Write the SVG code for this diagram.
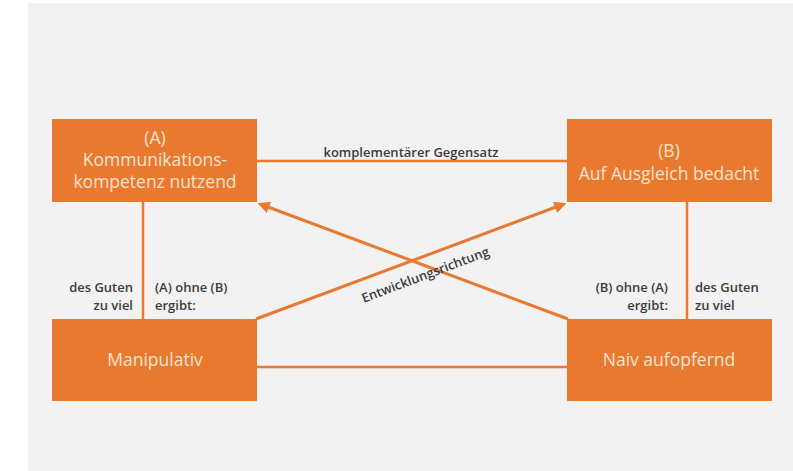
<svg xmlns="http://www.w3.org/2000/svg" width="793" height="471" viewBox="0 0 793 471">
<defs>
<style>
.box{fill:#E8792E;}
.bt{font-family:"Open Sans","Noto Sans",sans-serif;font-size:17.5px;fill:#FBE3CF;text-anchor:middle;}
.lb{font-family:"Open Sans","Noto Sans",sans-serif;font-size:13px;font-weight:600;fill:#3C3C3C;}
.ln{stroke:#E8792E;stroke-width:2.5;fill:none;}
.ar{stroke:#E8792E;stroke-width:3;fill:none;marker-end:url(#ah);}
</style>
<marker id="ah" viewBox="0 0 10 10" refX="8" refY="5" markerWidth="4" markerHeight="4" orient="auto" markerUnits="strokeWidth">
<path d="M0,0 L10,5 L0,10 z" fill="#E8792E"/>
</marker>
</defs>
<rect x="0" y="0" width="793" height="471" fill="#ffffff"/>
<rect x="28" y="3" width="765" height="468" fill="#F2F2F2"/>
<g id="connectors">
<line class="ln" x1="257" y1="161" x2="567" y2="161"/>
<line class="ln" x1="143" y1="202" x2="143" y2="319"/>
<line class="ln" x1="687" y1="202" x2="687" y2="319"/>
<line class="ln" x1="257" y1="367" x2="567" y2="367"/>
<line class="ar" x1="256" y1="319" x2="564" y2="204"/>
<line class="ar" x1="568" y1="319" x2="260" y2="204"/>
<text class="lb" x="411" y="157" text-anchor="middle">komplementärer Gegensatz</text>
<text class="lb" transform="translate(427,279) rotate(-20.7)" text-anchor="middle">Entwicklungsrichtung</text>
<text class="lb" x="133" y="292" text-anchor="end">des Guten</text>
<text class="lb" x="133" y="310" text-anchor="end">zu viel</text>
<text class="lb" x="155" y="292">(A) ohne (B)</text>
<text class="lb" x="155" y="310">ergibt:</text>
<text class="lb" x="668" y="292" text-anchor="end">(B) ohne (A)</text>
<text class="lb" x="668" y="310" text-anchor="end">ergibt:</text>
<text class="lb" x="695" y="292">des Guten</text>
<text class="lb" x="695" y="310">zu viel</text>
</g>
<g id="nodeA">
<rect class="box" x="52" y="119" width="205" height="83"/>
<text class="bt" x="155" y="144">(A)</text>
<text class="bt" x="155" y="166">Kommunikations-</text>
<text class="bt" x="155" y="188">kompetenz nutzend</text>
</g>
<g id="nodeB">
<rect class="box" x="567" y="119" width="205" height="83"/>
<text class="bt" x="669" y="157">(B)</text>
<text class="bt" x="669" y="180">Auf Ausgleich bedacht</text>
</g>
<g id="nodeManipulativ">
<rect class="box" x="52" y="319" width="205" height="82"/>
<text class="bt" x="155" y="366">Manipulativ</text>
</g>
<g id="nodeNaiv">
<rect class="box" x="567" y="319" width="205" height="82"/>
<text class="bt" x="669" y="366">Naiv aufopfernd</text>
</g>
</svg>
